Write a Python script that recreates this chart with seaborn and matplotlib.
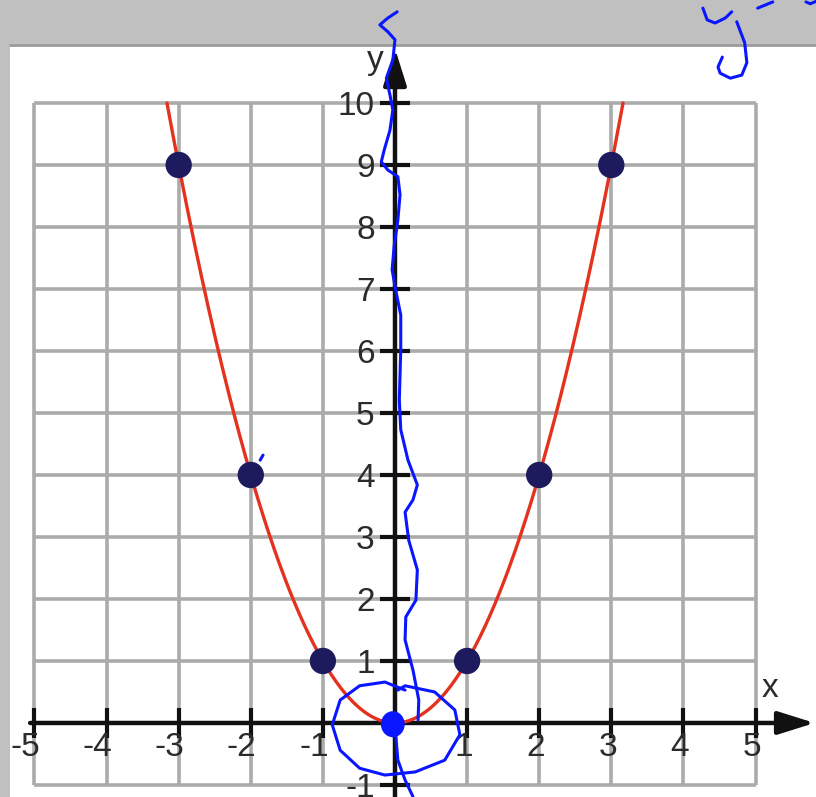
import numpy as np
import matplotlib
matplotlib.use("Agg")
import matplotlib.pyplot as plt
import seaborn as sns
import pandas as pd
from matplotlib.patches import Rectangle, Ellipse

# plotted points of y = x^2
point_x = [-3, -2, -1, 1, 2, 3]
point_y = [9, 4, 1, 1, 4, 9]

# tick labels
x_ticks = [-5, -4, -3, -2, -1, 1, 2, 3, 4, 5]
y_ticks = [-1, 1, 2, 3, 4, 5, 6, 7, 8, 9, 10]

# hand drawn blue pen strokes (data units)
wave_x = [0.03, -0.10, -0.21, -0.10, 0.00, -0.03, -0.12, -0.07, -0.03, -0.07, -0.15, -0.19,
          -0.10, 0.04, 0.07, 0.04, -0.01, -0.04, 0.01, 0.08, 0.08, 0.06, 0.08, 0.18, 0.31,
          0.25, 0.14, 0.19, 0.31, 0.29, 0.15, 0.14, 0.25, 0.33, 0.32]
wave_y = [11.47, 11.37, 11.26, 11.15, 11.02, 10.69, 10.40, 10.13, 9.89, 9.56, 9.24, 9.05,
          8.92, 8.81, 8.52, 8.11, 7.71, 7.31, 6.98, 6.58, 6.02, 5.21, 4.73, 4.24, 3.84,
          3.60, 3.40, 2.95, 2.47, 1.98, 1.71, 1.34, 0.85, 0.37, 0.05]
loop_x = [0.14, -0.14, -0.49, -0.76, -0.87, -0.76, -0.49, -0.14, 0.28, 0.69, 0.90, 0.83,
          0.55, 0.14, 0.04]
loop_y = [0.53, 0.66, 0.60, 0.37, -0.03, -0.44, -0.73, -0.84, -0.79, -0.60, -0.19, 0.21,
          0.50, 0.60, 0.53]
tail_x = [0.01, 0.04, 0.14, 0.25]
tail_y = [-0.19, -0.60, -0.92, -1.19]
pen_y_arm_x = [4.27, 4.33, 4.44, 4.58, 4.67]
pen_y_arm_y = [11.53, 11.34, 11.29, 11.37, 11.47]
pen_y_tail_x = [4.74, 4.85, 4.88, 4.81, 4.65, 4.51, 4.48, 4.54]
pen_y_tail_y = [11.31, 10.97, 10.65, 10.45, 10.40, 10.48, 10.58, 10.74]
pen_eq_x = [5.03, 5.24]
pen_eq_y = [11.53, 11.63]
pen_a_x = [5.70, 5.76, 5.84]
pen_a_y = [11.63, 11.60, 11.64]
pen_dash_x = [-1.87, -1.83]
pen_dash_y = [4.24, 4.32]

sns.set_style("white")
plt.rcParams["font.family"] = ["Liberation Sans", "DejaVu Sans"]

GRID = "#ababab"
INK = "#111111"
TXT = "#2b2b2b"
PEN = "#0a16ff"

fig = plt.figure(figsize=(8.16, 7.97), dpi=100, facecolor="#c0c0c0")
ax = fig.add_axes([0, 0, 1, 1])
ax.set_xlim(-5.478, 5.839)
ax.set_ylim(-1.194, 11.661)
ax.axis("off")
ax.patch.set_alpha(0)

# white page below the grey toolbar band
ax.add_patch(Rectangle((10 / 816, 0), 1, 1 - 45 / 797, transform=ax.transAxes,
                       fc="white", ec="none", zorder=0))
ax.plot([10 / 816, 1], [1 - 45 / 797] * 2, transform=ax.transAxes, color="#9a9a9a", lw=2, zorder=0.5)

# grid
ax.vlines(range(-5, 6), -1, 10, color=GRID, lw=2.6, zorder=1)
ax.hlines(range(-1, 11), -5, 5, color=GRID, lw=2.6, zorder=1)

# axes with arrows
arrow = dict(arrowstyle="-|>,head_length=0.7,head_width=0.22", lw=3.2, color=INK,
             mutation_scale=32, shrinkA=0, shrinkB=0)
ax.annotate("", xy=(5.82, 0), xytext=(-5.06, 0), arrowprops=arrow, zorder=3)
ax.annotate("", xy=(0, 10.88), xytext=(0, -1.25), arrowprops=arrow, zorder=3)
ax.plot(x_ticks, [0] * len(x_ticks), ls="", marker="|", ms=22, mew=3, color=INK, zorder=3)
ax.plot([0] * len(y_ticks), y_ticks, ls="", marker="_", ms=22, mew=3, color=INK, zorder=3)

for v in x_ticks:
    ax.text(v + 0.08, -0.4, str(v), ha="right", va="center", fontsize=24, color=TXT, zorder=4)
for v in y_ticks:
    ax.text(-0.28, v - 0.06, str(v), ha="right", va="center", fontsize=24, color=TXT, zorder=4)
ax.text(-0.27, 10.68, "y", ha="center", va="center", fontsize=24, color=TXT, zorder=4)
ax.text(5.2, 0.56, "x", ha="center", va="center", fontsize=24, color=TXT, zorder=4)

# parabola and points
curve = pd.DataFrame({"x": np.linspace(-np.sqrt(10), np.sqrt(10), 400)})
curve["y"] = curve["x"] ** 2
sns.lineplot(data=curve, x="x", y="y", color="#e4321f", lw=2.4, sort=False, ax=ax, zorder=5)
pts = pd.DataFrame({"x": point_x, "y": point_y})
sns.scatterplot(data=pts, x="x", y="y", s=360, color="#1d1a5e", edgecolor="none", ax=ax, zorder=6)

# blue pen annotations
for xs, ys in [(wave_x, wave_y), (loop_x, loop_y), (tail_x, tail_y), (pen_y_arm_x, pen_y_arm_y),
               (pen_y_tail_x, pen_y_tail_y), (pen_eq_x, pen_eq_y), (pen_a_x, pen_a_y),
               (pen_dash_x, pen_dash_y)]:
    ax.plot(xs, ys, color=PEN, lw=2.2, solid_capstyle="round", solid_joinstyle="round", zorder=8, clip_on=False)
ax.add_patch(Ellipse((-0.03, -0.02), 0.33, 0.42, fc=PEN, ec="none", zorder=9))

fig.savefig("out.png", dpi=100, facecolor=fig.get_facecolor())
